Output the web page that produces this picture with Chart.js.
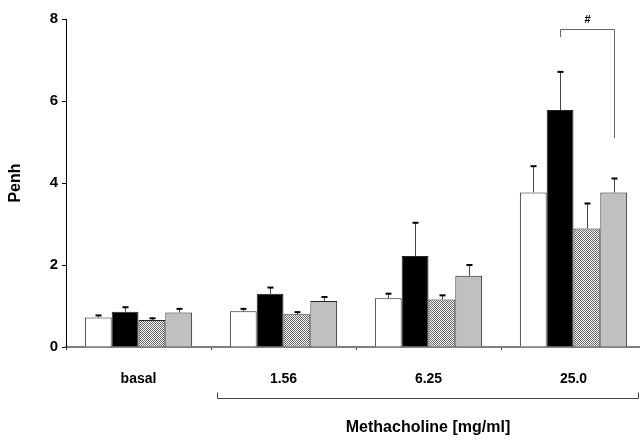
<!DOCTYPE html>
<html>
<head>
<meta charset="utf-8">
<script src="https://cdn.jsdelivr.net/npm/chart.js@4"></script>
<style>
html, body { margin: 0; padding: 0; background: #fff; overflow: hidden; }
#wrap { width: 646px; height: 439px; }
</style>
</head>
<body>
<div id="wrap"><canvas id="penhChart" width="646" height="439"></canvas></div>
<script>
// Penh response per methacholine dose, four groups (mean and upper SEM)
const doses = ['basal', '1.56', '6.25', '25.0'];
const groupA = [0.72, 0.87, 1.19, 3.77];
const groupAErr = [0.05, 0.06, 0.11, 0.64];
const groupB = [0.86, 1.30, 2.22, 5.78];
const groupBErr = [0.11, 0.15, 0.81, 0.93];
const groupC = [0.66, 0.80, 1.16, 2.89];
const groupCErr = [0.04, 0.05, 0.10, 0.61];
const groupD = [0.84, 1.12, 1.74, 3.77];
const groupDErr = [0.09, 0.10, 0.26, 0.34];
const yTicks = [0, 2, 4, 6, 8];

const FONT = 'Liberation Sans, Arial, sans-serif';

// fine checkerboard fill for the third group
function checkerPattern() {
    const c = document.createElement('canvas');
    c.width = 2; c.height = 2;
    const g = c.getContext('2d');
    g.fillStyle = '#ffffff';
    g.fillRect(0, 0, 2, 2);
    g.fillStyle = '#666666';
    g.fillRect(0, 0, 1, 1);
    g.fillRect(1, 1, 1, 1);
    return g.createPattern(c, 'repeat');
}

const errors = [groupAErr, groupBErr, groupCErr, groupDErr];

const errorBars = {
    id: 'errorBars',
    afterDatasetsDraw(chart) {
        const ctx = chart.ctx;
        const y = chart.scales.y;
        ctx.save();
        chart.data.datasets.forEach((ds, i) => {
            const meta = chart.getDatasetMeta(i);
            meta.data.forEach((bar, j) => {
                const top = y.getPixelForValue(ds.data[j] + errors[i][j]);
                const x = Math.round(bar.x) + 0.5;
                ctx.strokeStyle = '#444';
                ctx.lineWidth = 1;
                ctx.beginPath();
                ctx.moveTo(x, bar.y);
                ctx.lineTo(x, top);
                ctx.stroke();
                ctx.strokeStyle = '#000';
                ctx.lineWidth = 2;
                ctx.beginPath();
                ctx.moveTo(x - 3, top);
                ctx.lineTo(x + 3, top);
                ctx.stroke();
            });
        });
        ctx.restore();
    }
};

const annotations = {
    id: 'annotations',
    afterDraw(chart) {
        const ctx = chart.ctx;
        const x = chart.scales.x;
        const y = chart.scales.y;
        const area = chart.chartArea;
        ctx.save();

        // significance bracket between group B and group D at 25.0
        const xb = Math.round(chart.getDatasetMeta(1).data[3].x) + 0.5;
        const xd = Math.round(chart.getDatasetMeta(3).data[3].x) + 0.5;
        const yTop = Math.round(y.getPixelForValue(7.76)) + 0.5;
        ctx.strokeStyle = '#666';
        ctx.lineWidth = 1;
        ctx.beginPath();
        ctx.moveTo(xb, y.getPixelForValue(7.56));
        ctx.lineTo(xb, yTop);
        ctx.lineTo(xd, yTop);
        ctx.lineTo(xd, y.getPixelForValue(5.1));
        ctx.stroke();
        ctx.fillStyle = '#000';
        ctx.font = 'bold 11px ' + FONT;
        ctx.textAlign = 'center';
        ctx.textBaseline = 'middle';
        ctx.fillText('#', (xb + xd) / 2, yTop - 10);

        // bracket under the methacholine doses
        const half = (x.getPixelForValue(1) - x.getPixelForValue(0)) / 2;
        const left = Math.round(x.getPixelForValue(1) - half + 6) + 0.5;
        const right = Math.round(area.right - 8) + 0.5;
        const by = 398.5;
        ctx.strokeStyle = '#444';
        ctx.beginPath();
        ctx.moveTo(left, by - 6);
        ctx.lineTo(left, by);
        ctx.lineTo(right, by);
        ctx.lineTo(right, by - 6);
        ctx.stroke();
        ctx.font = 'bold 16px ' + FONT;
        ctx.fillText('Methacholine [mg/ml]', (left + right) / 2, 428);
        ctx.restore();
    }
};

new Chart(document.getElementById('penhChart'), {
    type: 'bar',
    data: {
        labels: doses,
        datasets: [
            { label: 'A', data: groupA, backgroundColor: '#ffffff' },
            { label: 'B', data: groupB, backgroundColor: '#000000' },
            { label: 'C', data: groupC, backgroundColor: checkerPattern() },
            { label: 'D', data: groupD, backgroundColor: '#c0c0c0' }
        ].map(d => Object.assign(d, {
            borderColor: '#222',
            borderWidth: 1,
            borderSkipped: 'bottom',
            categoryPercentage: 0.74,
            barPercentage: 1.0
        }))
    },
    options: {
        responsive: false,
        animation: false,
        devicePixelRatio: 1,
        layout: { padding: { top: 19, left: 6, right: 0, bottom: 0 } },
        plugins: {
            legend: { display: false },
            tooltip: { enabled: false }
        },
        scales: {
            x: {
                grid: {
                    display: true,
                    drawOnChartArea: false,
                    drawTicks: true,
                    tickLength: 3,
                    color: '#444',
                    offset: true
                },
                border: { color: '#808080', width: 2 },
                ticks: {
                    color: '#000',
                    padding: 21,
                    font: { family: FONT, size: 14, weight: 'bold' }
                },
                afterFit(scale) { scale.height = 92; }
            },
            y: {
                min: 0,
                max: 8,
                afterBuildTicks(scale) { scale.ticks = yTicks.map(v => ({ value: v })); },
                grid: {
                    display: true,
                    drawOnChartArea: false,
                    drawTicks: true,
                    tickLength: 4,
                    color: '#000'
                },
                border: { color: '#000', width: 1 },
                ticks: {
                    color: '#000',
                    padding: 4,
                    font: { family: FONT, size: 15, weight: 'bold' }
                },
                title: {
                    display: true,
                    text: 'Penh',
                    color: '#000',
                    padding: { top: 0, bottom: 12 },
                    font: { family: FONT, size: 16, weight: 'bold' }
                },
                afterFit(scale) { scale.width = 60; }
            }
        }
    },
    plugins: [errorBars, annotations]
});
</script>
</body>
</html>
